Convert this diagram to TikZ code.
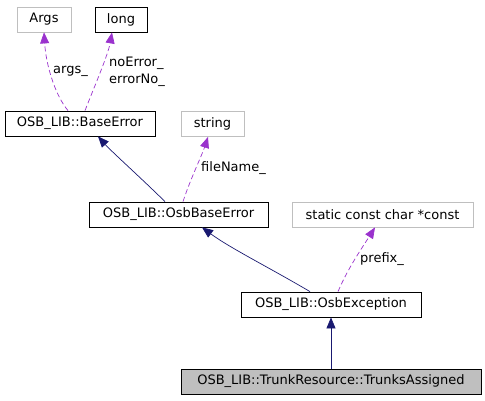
\documentclass[tikz,border=0pt]{standalone}
\usepackage{fontspec}
\setmainfont{DejaVu Sans}
\usetikzlibrary{arrows.meta}
\definecolor{edgepurple}{HTML}{9A32CD}
\definecolor{edgenavy}{HTML}{191970}
\definecolor{boxgray}{HTML}{BFBFBF}
\begin{document}
\begin{tikzpicture}[x=1pt,y=-1pt,
  font=\fontsize{13}{15}\selectfont,
  cls/.style={draw=black,line width=0.8pt,minimum height=25pt,inner sep=0pt,anchor=center},
  ext/.style={draw=boxgray,line width=0.8pt,minimum height=25pt,inner sep=0pt,anchor=center},
  dep/.style={draw=edgepurple,dashed,dash pattern=on 5pt off 3pt,line width=0.7pt,
    -{Triangle[length=11pt,width=9pt,fill=edgepurple]}},
  inh/.style={draw=edgenavy,line width=0.7pt,
    -{Triangle[length=11pt,width=9pt,fill=edgenavy]}},
  lbl/.style={inner sep=0pt,anchor=west}]
\useasboundingbox (0,0) rectangle (485,400);
\node[ext,minimum width=54pt] (args) at (44,19.5) {Args};
\node[cls,minimum width=52pt] (long) at (121,19.5) {long};
\node[cls,minimum width=150pt] (base) at (80,123.5) {OSB\_LIB::BaseError};
\node[ext,minimum width=63pt] (str) at (212.5,124) {string};
\node[cls,minimum width=179pt] (obe) at (178.5,214.5) {OSB\_LIB::OsbBaseError};
\node[ext,minimum width=181pt] (scc) at (382.5,214.5) {static const char *const};
\node[cls,minimum width=180pt] (oex) at (331,304.5) {OSB\_LIB::OsbException};
\node[cls,fill=boxgray,minimum width=300pt] (tra) at (331,381.5) {OSB\_LIB::TrunkResource::TrunksAssigned};

\draw[dep] ([xshift=-12pt]base.north) .. controls (55,95) and (46,65) .. (args.south);
\draw[dep] ([xshift=5pt]base.north) .. controls (95,85) and (108,55) .. ([xshift=-9pt]long.south);
\draw[inh] ([xshift=-13.5pt]obe.north) .. controls (140,177) and (112,152) .. ([xshift=18pt]base.south);
\draw[dep] ([xshift=4.5pt]obe.north) .. controls (190,180) and (202,155) .. ([xshift=-4.5pt]str.south);
\draw[inh] ([xshift=-21pt]oex.north) .. controls (270,268) and (230,248) .. ([xshift=23.5pt]obe.south);
\draw[dep] ([xshift=7pt]oex.north) .. controls (348,268) and (362,248) .. ([xshift=-7.5pt]scc.south);
\draw[inh] (tra.north) -- (oex.south);

\node[lbl] (largs) at (53,71) {args\_};
\node[lbl] (lnoe) at (109,63) {noError\_};
\node[lbl] (lerr) at (109,80) {errorNo\_};
\node[lbl] (lfile) at (201,168) {fileName\_};
\node[lbl] (lpre) at (360,259) {prefix\_};
\end{tikzpicture}
\end{document}
